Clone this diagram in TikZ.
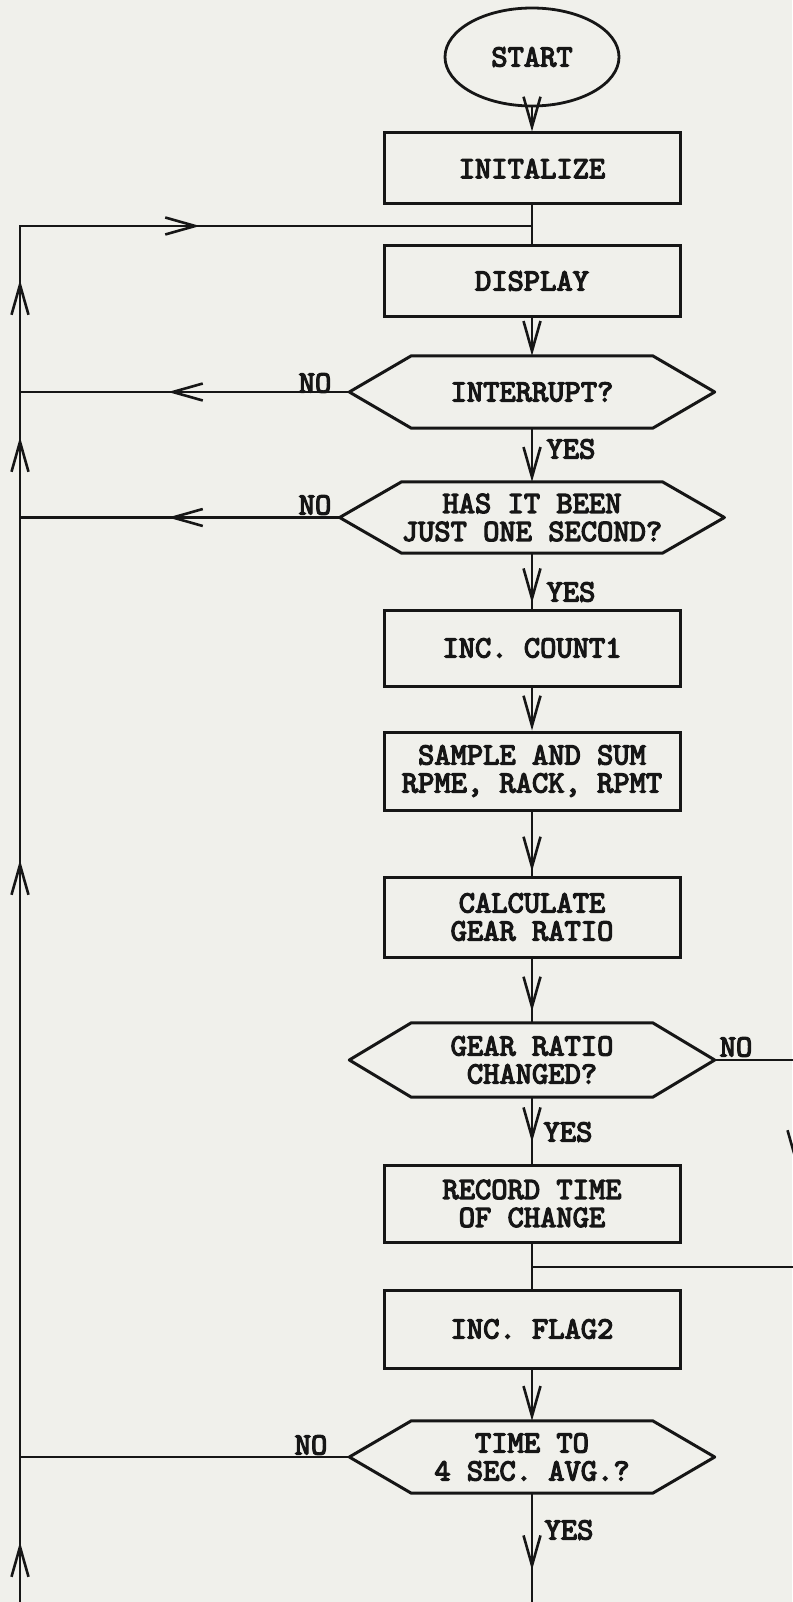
\documentclass[tikz,border=0pt]{standalone}
\usepackage{fontspec}
\usetikzlibrary{arrows.meta,shapes.geometric}
\newfontfamily\flowfam{lmmono10-regular.otf}[FakeBold=4]
\definecolor{paper}{RGB}{240,240,235}
\definecolor{ink}{RGB}{22,22,22}
\newcommand{\flowfont}{\fontsize{31}{28}\selectfont\flowfam}
\begin{document}
\begin{tikzpicture}[x=1pt,y=-1pt,
  every node/.style={text=ink},
  box/.style={draw=ink, line width=3pt, minimum width=296pt, inner sep=0pt, align=center, font=\flowfont},
  hexcore/.style={minimum width=241pt, minimum height=72pt, inner sep=0pt, align=center, font=\flowfont},
  hexline/.style={draw=ink, line width=3pt, line join=round},
  conn/.style={draw=ink, line width=2.6pt},
  arr/.style={conn, -{Straight Barb[length=30pt,width=17pt]}},
  lab/.style={font=\flowfont, inner sep=0pt}]
\fill[paper] (0,0) rectangle (792,1602);
\useasboundingbox (0,0) rectangle (792,1602);

% nodes
\node[draw=ink, line width=2.8pt, ellipse, minimum width=174pt, minimum height=98pt, inner sep=0pt, font=\flowfont] (start) at (532,57) {START};
\node[box, minimum height=71pt] (init) at (532,168.5) {INITALIZE};
\node[box, minimum height=70pt] (disp) at (532,281) {DISPLAY};
\node[hexcore] (hA) at (532,392) {INTERRUPT?};
\node[hexcore, minimum height=71pt] (hB) at (532,517.5) {HAS IT BEEN\\JUST ONE SECOND?};
\node[box, minimum height=76pt] (cnt) at (532,648) {INC. COUNT1};
\node[box, minimum height=78pt] (samp) at (532,771) {SAMPLE AND SUM\\RPME, RACK, RPMT};
\node[box, minimum height=80pt] (calc) at (532,917) {CALCULATE\\GEAR RATIO};
\node[hexcore, minimum height=74pt] (hC) at (532,1060) {GEAR RATIO\\CHANGED?};
\node[box, minimum height=77pt] (rec) at (532,1203.5) {RECORD TIME\\OF CHANGE};
\node[box, minimum height=78pt] (flag) at (532,1329) {INC. FLAG2};
\node[hexcore] (hD) at (532,1457) {TIME TO\\4 SEC. AVG.?};

% hexagon outlines
\foreach \h in {hA,hB,hC,hD} {
  \draw[hexline] (\h.north west) -- (\h.north east) -- ([xshift=62pt]\h.east) -- (\h.south east) -- (\h.south west) -- ([xshift=-62pt]\h.west) -- cycle;
  \coordinate (\h-L) at ([xshift=-62pt]\h.west);
  \coordinate (\h-R) at ([xshift=62pt]\h.east);
}

% labels
\node[lab] (noA) at (315,383) {NO};
\node[lab] (noB) at (315,505) {NO};
\node[lab] (noC) at (736,1047) {NO};
\node[lab] (noD) at (311,1445) {NO};
\node[lab] (yesA) at (571,449) {YES};
\node[lab] (yesB) at (571,592) {YES};
\node[lab] (yesC) at (568,1132) {YES};
\node[lab] (yesD) at (569,1530) {YES};

% coordinates
\coordinate (busBot) at (20,1615);
\coordinate (busTop) at (20,226);
\coordinate (fbJ) at (532,226);
\coordinate (fbTip) at (200,226);
\coordinate (busA) at (busTop |- hA-L);
\coordinate (busB) at (busTop |- hB-L);
\coordinate (busD) at (busTop |- hD-L);
\coordinate (tipA) at (168,392);
\coordinate (tipB) at (168,517.5);
\coordinate (up1) at (20,280);
\coordinate (up2) at (20,437);
\coordinate (up3) at (20,860);
\coordinate (up4) at (20,1542);
\coordinate (rTop) at (796,1060);
\coordinate (rTip) at (796,1165);
\coordinate (rBot) at (796,1267);
\coordinate (jn) at (532,1267);
\coordinate (colBot) at (532,1615);

% left bus
\draw[conn] (busBot) -- (busTop) -- (fbJ);
\draw[arr] (busTop) -- (fbTip);
\draw[arr] (busA) -- (up1);
\draw[arr] (busB) -- (up2);
\draw[arr] (busD) -- (up3);
\draw[arr] (busBot) -- (up4);

% NO branches to the left
\draw[conn] (hA-L) -- (busA);
\draw[arr] (hA-L) -- (tipA);
\draw[conn] (hB-L) -- (busB);
\draw[arr] (hB-L) -- (tipB);
\draw[conn] (hD-L) -- (busD);

% main column
\draw[arr] (start) -- (init);
\draw[conn] (init) -- (disp);
\draw[arr] (disp) -- (hA);
\draw[arr] (hA) -- (hB);
\draw[conn] (hB) -- (cnt);
\draw[arr] (hB.south) -- ++(0,50);
\draw[arr] (cnt) -- (samp);
\draw[conn] (samp) -- (calc);
\draw[arr] (samp.south) -- ++(0,60);
\draw[conn] (calc) -- (hC);
\draw[arr] (calc.south) -- ++(0,53);
\draw[conn] (hC) -- (rec);
\draw[arr] (hC.south) -- ++(0,45);
\draw[conn] (rec) -- (flag);
\draw[arr] (flag) -- (hD);
\draw[conn] (hD.south) -- (colBot);
\draw[arr] (hD.south) -- ++(0,77);

% right loop
\draw[conn] (hC-R) -- (rTop) -- (rBot) -- (jn);
\draw[arr] (rTop) -- (rTip);
\end{tikzpicture}
\end{document}
